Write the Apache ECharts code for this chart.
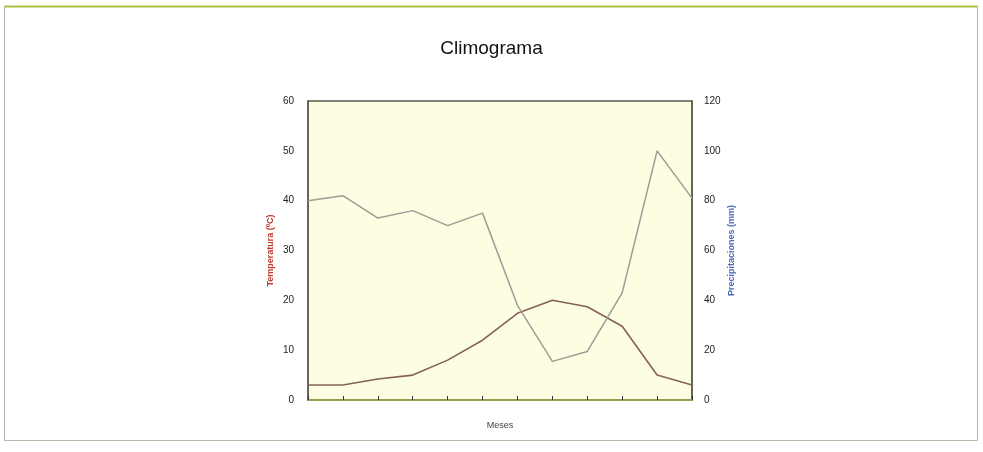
<!DOCTYPE html>
<html>
<head>
<meta charset="utf-8">
<script src="https://cdn.jsdelivr.net/npm/echarts@6/dist/echarts.min.js"></script>
<style>
  html, body { margin: 0; padding: 0; background: #fff; }
  #chart { width: 983px; height: 452px; }
</style>
</head>
<body>
<div id="chart"></div>
<script>
const meses = ['1', '2', '3', '4', '5', '6', '7', '8', '9', '10', '11', '12']
const temperatura = [3, 3, 4.2, 5, 8, 12, 17.4, 20, 18.7, 14.8, 5, 3]
const precipitaciones = [80, 82, 73, 76, 70, 75, 38, 15.5, 19.5, 43, 100, 81]
const tempTicks = [0, 60, 10]
const precTicks = [0, 120, 20]

const chart = echarts.init(document.getElementById('chart'))
const font = 'Arial, "Liberation Sans", sans-serif'

chart.setOption({
  animation: false,
  backgroundColor: '#ffffff',
  graphic: [
    {
      type: 'rect',
      shape: { x: 4.5, y: 6.5, width: 973, height: 434 },
      style: { fill: 'none', stroke: '#b8b8a8', lineWidth: 1 },
      silent: true,
    },
    {
      type: 'line',
      shape: { x1: 4.5, y1: 6.5, x2: 977.5, y2: 6.5 },
      style: { stroke: '#a8c040', lineWidth: 2 },
      silent: true,
    },
  ],
  title: {
    text: 'Climograma',
    left: 'center',
    top: 34,
    textStyle: { fontFamily: font, fontSize: 19, fontWeight: 'normal', color: '#111' },
  },
  grid: {
    left: 308, right: 291, top: 101, bottom: 52,
    show: true,
    backgroundColor: '#fdfde1',
    borderColor: '#5a5a50',
    borderWidth: 1.5,
  },
  xAxis: {
    type: 'category',
    data: meses,
    boundaryGap: false,
    name: 'Meses',
    nameLocation: 'middle',
    nameGap: 21,
    nameTextStyle: { fontFamily: font, fontSize: 9, color: '#444' },
    axisLine: { lineStyle: { color: '#a0a848', width: 1.5 } },
    axisTick: { inside: true, length: 4, lineStyle: { color: '#333' } },
    axisLabel: { show: false },
    splitLine: { show: false },
  },
  yAxis: [
    {
      type: 'value',
      min: tempTicks[0], max: tempTicks[1], interval: tempTicks[2],
      name: 'Temperatura (ºC)',
      nameLocation: 'middle',
      nameGap: 33,
      nameRotate: 90,
      nameTextStyle: { fontFamily: font, fontSize: 9, fontWeight: 'bold', color: '#c0392b' },
      axisLine: { show: true, lineStyle: { color: '#5a5a50', width: 1.5 } },
      axisTick: { inside: true, length: 4, lineStyle: { color: '#333' } },
      axisLabel: { fontFamily: font, fontSize: 10, color: '#222', margin: 14 },
      splitLine: { show: false },
    },
    {
      type: 'value',
      min: precTicks[0], max: precTicks[1], interval: precTicks[2],
      name: 'Precipitaciones (mm)',
      nameLocation: 'middle',
      nameGap: 35,
      nameRotate: 90,
      nameTextStyle: { fontFamily: font, fontSize: 9, fontWeight: 'bold', color: '#4a6ab8' },
      axisLine: { show: true, lineStyle: { color: '#5a5a50', width: 1.5 } },
      axisTick: { inside: true, length: 4, lineStyle: { color: '#333' } },
      axisLabel: { fontFamily: font, fontSize: 10, color: '#222', margin: 12 },
      splitLine: { show: false },
    },
  ],
  series: [
    {
      name: 'Temperatura',
      type: 'line',
      yAxisIndex: 0,
      data: temperatura,
      showSymbol: false,
      lineStyle: { color: '#86605a', width: 1.6 },
    },
    {
      name: 'Precipitaciones',
      type: 'line',
      yAxisIndex: 1,
      data: precipitaciones,
      showSymbol: false,
      lineStyle: { color: '#9c9c98', width: 1.5 },
    },
  ],
})
</script>
</body>
</html>
